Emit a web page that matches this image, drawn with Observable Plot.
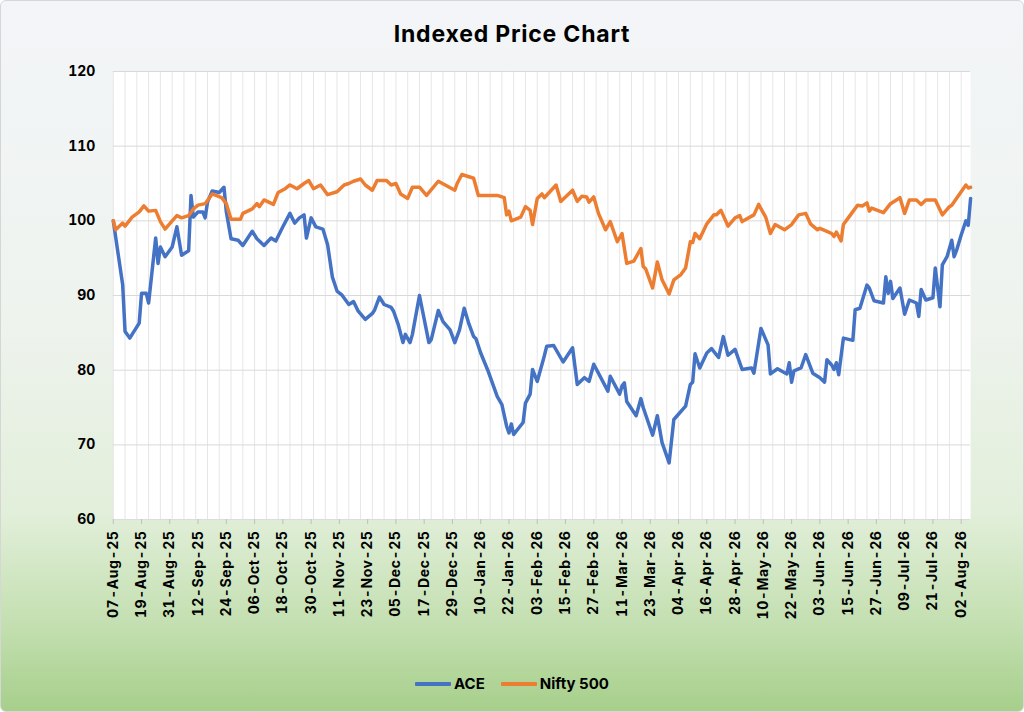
<!DOCTYPE html>
<html>
<head>
<meta charset="utf-8">
<script src="https://cdn.jsdelivr.net/npm/d3@7"></script>
<script src="https://cdn.jsdelivr.net/npm/@observablehq/plot@0.6"></script>
<style>
  html, body { margin: 0; padding: 0; background: #ffffff; }
  #wrap {
    position: relative; width: 1024px; height: 712px; box-sizing: border-box;
    border: 1px solid #d6d6d6; border-radius: 6px; overflow: hidden;
    background: linear-gradient(to bottom, #f3f5f8 0%, #eef3ee 45%, #e2efda 72%, #c3dfb0 88%, #a7cf8b 100%);
    font-family: Inter, "Open Sans", sans-serif; color: #000;
  }
  #title { height: 55px; box-sizing: border-box; padding-top: 19px; text-align: center;
    font-size: 23px; line-height: 28px; font-weight: 700; letter-spacing: 0.8px; }
  #chart svg { display: block; }
  #chart svg text { font-weight: 700; fill: #000; }
  #chart svg g[aria-label="x-axis tick label"] text { letter-spacing: 0.6px; }
  #legend { position: absolute; left: 0; right: 0; top: 673px; display: flex; justify-content: center;
    align-items: center; font-size: 15px; font-weight: 700; line-height: 20px; }
  .item { display: flex; align-items: center; margin: 0 8px; }
  .sw { display: inline-block; width: 36px; height: 4px; margin-right: 3px; border-radius: 1px; }
</style>
</head>
<body>
<div id="wrap">
  <div id="title">Indexed Price Chart</div>
  <div id="chart"></div>
  <div id="legend"></div>
</div>
<script>
const seriesNames = ["ACE", "Nifty 500"];
const seriesColors = ["#4472C4", "#ED7D31"];

const aceDates = ["2025-08-07","2025-08-11","2025-08-12","2025-08-14","2025-08-18","2025-08-19","2025-08-21","2025-08-22","2025-08-25","2025-08-26","2025-08-27","2025-08-29","2025-09-01","2025-09-03","2025-09-05","2025-09-08","2025-09-09","2025-09-10","2025-09-12","2025-09-14","2025-09-15","2025-09-16","2025-09-18","2025-09-21","2025-09-23","2025-09-24","2025-09-26","2025-09-29","2025-10-01","2025-10-05","2025-10-07","2025-10-10","2025-10-13","2025-10-15","2025-10-18","2025-10-21","2025-10-23","2025-10-25","2025-10-27","2025-10-28","2025-10-30","2025-11-01","2025-11-04","2025-11-06","2025-11-08","2025-11-10","2025-11-12","2025-11-15","2025-11-17","2025-11-19","2025-11-22","2025-11-25","2025-11-26","2025-11-28","2025-11-30","2025-12-03","2025-12-04","2025-12-06","2025-12-08","2025-12-09","2025-12-11","2025-12-12","2025-12-15","2025-12-19","2025-12-20","2025-12-23","2025-12-25","2025-12-28","2025-12-30","2026-01-01","2026-01-03","2026-01-05","2026-01-07","2026-01-08","2026-01-10","2026-01-13","2026-01-17","2026-01-19","2026-01-21","2026-01-22","2026-01-23","2026-01-24","2026-01-28","2026-01-29","2026-01-31","2026-02-01","2026-02-03","2026-02-06","2026-02-07","2026-02-10","2026-02-14","2026-02-18","2026-02-20","2026-02-23","2026-02-25","2026-02-27","2026-03-05","2026-03-06","2026-03-10","2026-03-11","2026-03-12","2026-03-13","2026-03-17","2026-03-19","2026-03-20","2026-03-24","2026-03-26","2026-03-28","2026-03-31","2026-04-02","2026-04-07","2026-04-09","2026-04-10","2026-04-11","2026-04-13","2026-04-16","2026-04-18","2026-04-21","2026-04-23","2026-04-25","2026-04-28","2026-05-01","2026-05-05","2026-05-06","2026-05-09","2026-05-12","2026-05-13","2026-05-16","2026-05-20","2026-05-21","2026-05-22","2026-05-23","2026-05-26","2026-05-28","2026-05-31","2026-06-03","2026-06-05","2026-06-06","2026-06-08","2026-06-09","2026-06-10","2026-06-11","2026-06-13","2026-06-17","2026-06-18","2026-06-20","2026-06-23","2026-06-24","2026-06-26","2026-06-30","2026-07-01","2026-07-02","2026-07-03","2026-07-04","2026-07-07","2026-07-09","2026-07-11","2026-07-14","2026-07-15","2026-07-16","2026-07-18","2026-07-21","2026-07-22","2026-07-24","2026-07-25","2026-07-27","2026-07-29","2026-07-30","2026-07-31","2026-08-02","2026-08-04","2026-08-05","2026-08-06"];
const aceValues = [100,91.4,85.2,84.3,86.3,90.3,90.3,89,97.7,94.3,96.5,95.2,96.5,99.2,95.4,96,103.4,100.5,101.2,101.2,100.4,102.5,104,103.8,104.5,101.2,97.6,97.4,96.7,98.6,97.6,96.7,97.7,97.3,99.2,101,99.7,100.4,100.8,97.7,100.4,99.2,98.9,96.8,92.5,90.6,90.1,88.8,89.2,87.9,86.8,87.6,88.1,89.8,88.8,88.4,87.9,86.1,83.7,84.8,83.7,84.8,90,83.7,84.1,88,86.5,85.4,83.7,85.4,88.3,86.2,84.5,84.2,82.3,80,76.5,75.4,72.5,71.6,72.8,71.4,73,75.6,76.8,80.1,78.5,81.9,83.2,83.3,81.1,83,78.1,79,78.5,80.8,77.2,79.2,76.8,77.9,78.3,75.8,73.9,76.2,75,71.3,73.9,70.3,67.6,73.4,75.2,78.1,78.4,82.2,80.3,82.3,82.9,81.7,84.5,82,82.8,80.1,80.3,79.6,85.6,83.4,79.5,80.2,79.5,81,78.4,79.9,80.3,82.1,79.6,79,78.4,81.4,80.7,80.1,81,79.4,84.3,84,88.1,88.3,91.4,91,89.3,89,92.5,90.3,91.9,89.6,91,87.5,89.4,89,87.2,90.8,89.4,89.7,93.7,88.5,94.1,95.2,97.4,95.2,96,98.1,100,99.4,103];

const niftyDates = ["2025-08-07","2025-08-08","2025-08-11","2025-08-12","2025-08-15","2025-08-18","2025-08-20","2025-08-22","2025-08-25","2025-08-27","2025-08-29","2025-09-01","2025-09-03","2025-09-05","2025-09-08","2025-09-10","2025-09-12","2025-09-15","2025-09-18","2025-09-22","2025-09-24","2025-09-26","2025-09-30","2025-10-01","2025-10-05","2025-10-07","2025-10-08","2025-10-10","2025-10-14","2025-10-16","2025-10-19","2025-10-21","2025-10-24","2025-10-27","2025-10-29","2025-10-31","2025-11-03","2025-11-06","2025-11-10","2025-11-13","2025-11-15","2025-11-17","2025-11-20","2025-11-22","2025-11-25","2025-11-27","2025-12-01","2025-12-03","2025-12-05","2025-12-07","2025-12-10","2025-12-12","2025-12-15","2025-12-18","2025-12-23","2025-12-30","2025-12-31","2026-01-02","2026-01-07","2026-01-09","2026-01-17","2026-01-20","2026-01-21","2026-01-22","2026-01-23","2026-01-27","2026-01-29","2026-01-31","2026-02-01","2026-02-03","2026-02-05","2026-02-06","2026-02-11","2026-02-13","2026-02-18","2026-02-20","2026-02-22","2026-02-24","2026-02-25","2026-02-27","2026-03-01","2026-03-04","2026-03-06","2026-03-09","2026-03-11","2026-03-13","2026-03-16","2026-03-19","2026-03-20","2026-03-21","2026-03-24","2026-03-26","2026-03-28","2026-03-31","2026-04-02","2026-04-05","2026-04-07","2026-04-09","2026-04-10","2026-04-11","2026-04-13","2026-04-16","2026-04-19","2026-04-20","2026-04-22","2026-04-25","2026-04-28","2026-04-30","2026-05-01","2026-05-06","2026-05-08","2026-05-11","2026-05-13","2026-05-15","2026-05-19","2026-05-22","2026-05-25","2026-05-28","2026-05-30","2026-06-02","2026-06-03","2026-06-06","2026-06-08","2026-06-09","2026-06-10","2026-06-12","2026-06-13","2026-06-16","2026-06-19","2026-06-21","2026-06-23","2026-06-24","2026-06-25","2026-06-30","2026-07-03","2026-07-07","2026-07-09","2026-07-11","2026-07-14","2026-07-16","2026-07-18","2026-07-22","2026-07-25","2026-07-28","2026-07-29","2026-07-31","2026-08-02","2026-08-04","2026-08-05","2026-08-06"];
const niftyValues = [100,98.8,99.7,99.3,100.5,101.2,102,101.3,101.4,99.9,98.9,100,100.7,100.4,100.7,101.6,102.1,102.3,103.6,103.1,102.3,100.2,100.2,101,101.6,102.3,101.9,102.8,102.2,103.8,104.3,104.8,104.3,105,105.4,104.3,104.8,103.5,103.9,104.8,105,105.3,105.6,104.8,104.1,105.4,105.4,104.8,105,103.6,103,104.5,104.5,103.4,105.3,104.1,105,106.2,105.7,103.4,103.4,103.1,100.8,101.3,100,100.5,101.9,101.4,99.5,103,103.6,103.1,104.8,102.6,104.1,102.6,103.3,103.2,102.5,103.2,101,98.8,99.9,97.2,98.3,94.3,94.6,96.3,93.9,93.6,91,94.5,92.1,90.2,92.1,92.8,93.7,97.2,97.1,98.3,97.6,99.6,100.8,100.8,101.4,99.3,100.4,100.7,99.9,100.8,102.2,100.5,98.3,99.5,98.8,99.5,100.8,101,99.6,98.8,99,98.6,98.3,97.9,98.5,97.3,99.5,100.8,102.1,102,102.4,101.3,101.7,101.1,102.3,103.1,101,102.8,102.8,102.2,102.8,102.8,100.8,101.9,102.1,103,103.9,104.8,104.4,104.5];

const xTickDates = ["2025-08-07","2025-08-19","2025-08-31","2025-09-12","2025-09-24","2025-10-06","2025-10-18","2025-10-30","2025-11-11","2025-11-23","2025-12-05","2025-12-17","2025-12-29","2026-01-10","2026-01-22","2026-02-03","2026-02-15","2026-02-27","2026-03-11","2026-03-23","2026-04-04","2026-04-16","2026-04-28","2026-05-10","2026-05-22","2026-06-03","2026-06-15","2026-06-27","2026-07-09","2026-07-21","2026-08-02"];
const yTicks = [60, 70, 80, 90, 100, 110, 120];
const xDomain = ["2025-08-07", "2026-08-06"];

const parse = s => new Date(s + "T00:00:00Z");
const ace = aceDates.map((d, i) => ({date: parse(d), value: aceValues[i]}));
const nifty = niftyDates.map((d, i) => ({date: parse(d), value: niftyValues[i]}));
const start = parse(xDomain[0]);
const gridDates = d3.range(0, 361, 5).map(k => d3.utcDay.offset(start, k));

const chart = Plot.plot({
  width: 1024,
  height: 590,
  marginTop: 15,
  marginBottom: 126,
  marginLeft: 112,
  marginRight: 53,
  style: {background: "transparent", fontFamily: "Inter, 'Open Sans', sans-serif", color: "#000", overflow: "visible"},
  x: {type: "utc", domain: xDomain.map(parse)},
  y: {domain: [60, 120]},
  marks: [
    Plot.frame({fill: "white", stroke: null}),
    Plot.ruleX(gridDates, {stroke: "#e6e6e6", strokeWidth: 1}),
    Plot.ruleY(yTicks, {stroke: "#d9d9d9", strokeWidth: 1}),
    Plot.axisY({ticks: yTicks, tickSize: 0, tickPadding: 18, fontSize: 14, label: null}),
    Plot.axisX({ticks: xTickDates.map(parse), tickFormat: d3.utcFormat("%d-%b-%y"), tickRotate: -90,
      tickSize: 5, tickPadding: 6, fontSize: 14, stroke: "#bfbfbf", label: null}),
    Plot.lineY(ace, {x: "date", y: "value", stroke: seriesColors[0], strokeWidth: 3.5, strokeLinejoin: "round"}),
    Plot.lineY(nifty, {x: "date", y: "value", stroke: seriesColors[1], strokeWidth: 3.5, strokeLinejoin: "round"})
  ]
});
document.getElementById("chart").appendChild(chart);

const legend = document.getElementById("legend");
seriesNames.forEach((name, i) => {
  const item = document.createElement("div");
  item.className = "item";
  const sw = document.createElement("span");
  sw.className = "sw";
  sw.style.background = seriesColors[i];
  const label = document.createElement("span");
  label.textContent = name;
  item.appendChild(sw);
  item.appendChild(label);
  legend.appendChild(item);
});
</script>
</body>
</html>
